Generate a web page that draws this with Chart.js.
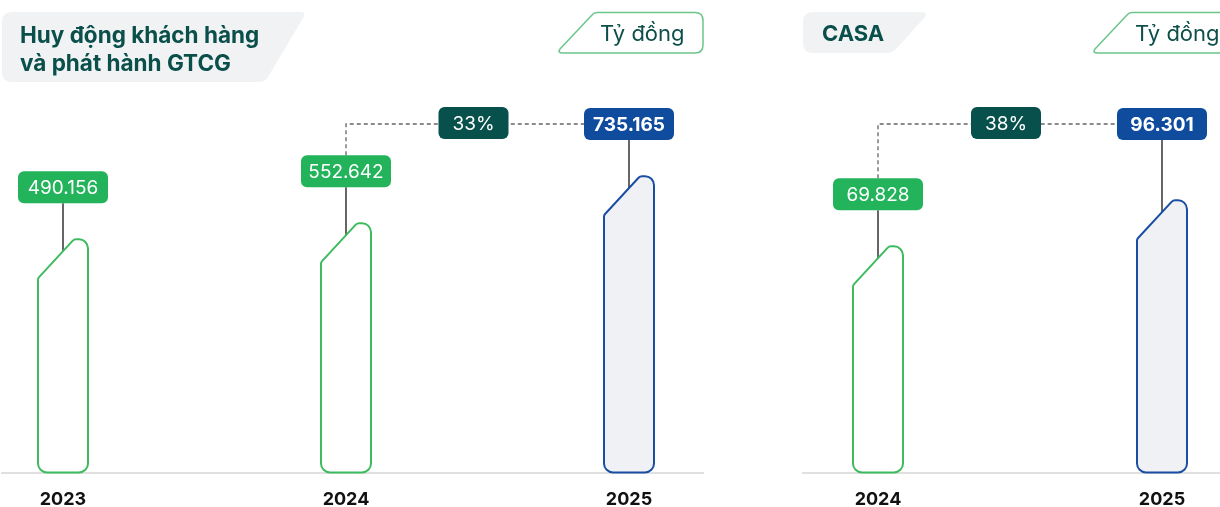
<!DOCTYPE html>
<html>
<head>
<meta charset="utf-8">
<script src="https://cdn.jsdelivr.net/npm/chart.js@4.4.1/dist/chart.umd.min.js"></script>
<style>
  html, body { margin:0; padding:0; background:#fff; }
  #wrap { position:relative; width:1220px; height:507px; overflow:hidden; font-family:Inter, "Noto Sans", sans-serif; }
  canvas.c { position:absolute; left:0; top:0; }
  svg { position:absolute; left:0; top:0; }
</style>
</head>
<body>
<div id="wrap">
  <canvas id="c1" class="c" width="1220" height="526"></canvas>
  <canvas id="c2" class="c" width="1220" height="526"></canvas>
  <svg width="1220" height="507" id="hdr"></svg>
</div>
<script>
// ---- data ----
const title1 = ['Huy động khách hàng', 'và phát hành GTCG'];
const years1 = ['2023', '2024', '2025'];
const values1 = [490156, 552642, 735165];
const growth1 = '33%';

const title2 = ['CASA'];
const years2 = ['2024', '2025'];
const values2 = [69828, 96301];
const growth2 = '38%';

const unitLabel = 'Tỷ đồng';

// ---- styles ----
const GREEN = '#22b35b', GREEN_BAR = '#3dbb5f', BLUE = '#0f4c9e', BLUE_BAR = '#1a4ea3', TEAL = '#07504b';
const FONT = 'Inter, "Noto Sans", sans-serif';

function fmt(v) { return Math.round(v).toString().replace(/\B(?=(\d{3})+(?!\d))/g, '.'); }

function rrect(ctx, x, y, w, h, r) {
  ctx.beginPath();
  ctx.moveTo(x + r, y);
  ctx.arcTo(x + w, y, x + w, y + h, r);
  ctx.arcTo(x + w, y + h, x, y + h, r);
  ctx.arcTo(x, y + h, x, y, r);
  ctx.arcTo(x, y, x + w, y, r);
  ctx.closePath();
}

function box(ctx, cx, top, w, text, fill, bold) {
  rrect(ctx, cx - w / 2, top, w, 32, 6);
  ctx.fillStyle = fill; ctx.fill();
  ctx.fillStyle = '#fff';
  ctx.font = (bold ? '700 ' : '400 ') + '19px ' + FONT;
  ctx.textAlign = 'center'; ctx.textBaseline = 'middle';
  ctx.fillText(text, cx, top + 17);
}

const barPlugin = {
  id: 'customBars',
  beforeDatasetsDraw(chart, args, o) {
    const ctx = chart.ctx, b = chart.chartArea.bottom;
    ctx.save();
    ctx.strokeStyle = '#e0e0e0'; ctx.lineWidth = 2;
    ctx.beginPath(); ctx.moveTo(o.lineFrom, b + 0.5); ctx.lineTo(o.lineTo, b + 0.5); ctx.stroke();
    ctx.restore();
  },
  afterDatasetsDraw(chart, args, o) {
    const ctx = chart.ctx;
    const meta = chart.getDatasetMeta(0);
    const data = chart.data.datasets[0].data;
    const n = meta.data.length;
    const S = 39, D = 36, W = 90;
    const fixedTop = chart.chartArea.top + 8;
    ctx.save();
    meta.data.forEach((bar, i) => {
      const last = i === n - 1;
      const cx = bar.x, y = bar.y, yb = bar.base, w = bar.width;
      const xl = cx - w / 2, xr = cx + w / 2;
      // connector
      const labelTop = last ? fixedTop : y - 68;
      const slantY = y + S - (cx - xl) * S / D;
      ctx.strokeStyle = '#666'; ctx.lineWidth = 2; ctx.setLineDash([]);
      ctx.beginPath(); ctx.moveTo(cx, labelTop + 32); ctx.lineTo(cx, slantY + 2); ctx.stroke();
      // bar shape
      ctx.beginPath();
      ctx.moveTo(xl, yb - 10);
      ctx.arcTo(xl, y + S, xl + D, y, 4);
      ctx.arcTo(xl + D, y, xr, y, 5);
      ctx.arcTo(xr, y, xr, yb, 9);
      ctx.arcTo(xr, yb, xl, yb, 9);
      ctx.arcTo(xl, yb, xl, y + S, 9);
      ctx.closePath();
      ctx.fillStyle = last ? '#eff1f4' : '#ffffff';
      ctx.fill();
      ctx.strokeStyle = last ? BLUE_BAR : GREEN_BAR; ctx.lineWidth = 2;
      ctx.stroke();
      // value label
      box(ctx, cx, labelTop, W, fmt(data[i]), last ? BLUE : GREEN, last);
    });
    // growth connector
    const a = meta.data[n - 2], z = meta.data[n - 1];
    const aTop = a.y - 68;
    const lineY = fixedTop + 16;
    ctx.strokeStyle = '#666'; ctx.lineWidth = 1.3; ctx.setLineDash([4, 3]);
    ctx.beginPath();
    ctx.moveTo(a.x, aTop); ctx.lineTo(a.x, lineY); ctx.lineTo(z.x - W / 2, lineY);
    ctx.stroke();
    ctx.setLineDash([]);
    const gx = (a.x + z.x) / 2 - 14;
    rrect(ctx, gx - 35, fixedTop - 1, 70, 32, 6);
    ctx.fillStyle = TEAL; ctx.fill();
    ctx.fillStyle = '#fff'; ctx.font = '400 19px ' + FONT;
    ctx.textAlign = 'center'; ctx.textBaseline = 'middle';
    ctx.fillText(o.growth, gx, fixedTop + 16);
    ctx.restore();
  }
};

function makeChart(id, years, values, growth, padL, padR, yMin, yMax, lineFrom, lineTo) {
  return new Chart(document.getElementById(id), {
    type: 'bar',
    data: { labels: years, datasets: [{ data: values, base: yMin, backgroundColor: 'rgba(0,0,0,0)', borderWidth: 0, barThickness: 50, clip: false }] },
    options: {
      responsive: false, animation: false,
      events: [],
      layout: { padding: { left: padL, right: padR, top: 100, bottom: 0 } },
      plugins: { legend: { display: false }, tooltip: { enabled: false },
        customBars: { growth: growth, lineFrom: lineFrom, lineTo: lineTo } },
      scales: {
        x: { offset: false, grid: { display: false, drawTicks: false }, border: { display: false },
             ticks: { padding: 16, color: '#111', font: { family: FONT, size: 18, weight: '700' }, maxRotation: 0 } },
        y: { display: false, min: yMin, max: yMax }
      }
    },
    plugins: [barPlugin]
  });
}

makeChart('c1', years1, values1, growth1, 63, 1220 - 629, -413800, 1030500, 1, 704);
makeChart('c2', years2, values2, growth2, 878, 1220 - 1162, -59900, 153800, 802, 1220);

// ---- headers (SVG, real text) ----
const svg = document.getElementById('hdr');
const NS = 'http://www.w3.org/2000/svg';
function el(tag, attrs, text) {
  const e = document.createElementNS(NS, tag);
  for (const k in attrs) e.setAttribute(k, attrs[k]);
  if (text !== undefined) e.textContent = text;
  svg.appendChild(e); return e;
}
// title 1
el('path', { d: 'M12,12 L300,12 Q307,12 303,18 L268,77 Q265,82 258,82 L12,82 Q2,82 2,72 L2,22 Q2,12 12,12 Z', fill: '#f0f2f4' });
el('text', { x: 20, y: 43, fill: '#0b4f4a', 'font-family': FONT, 'font-size': 22.5, 'font-weight': 700 }, title1[0]);
el('text', { x: 20, y: 71, fill: '#0b4f4a', 'font-family': FONT, 'font-size': 22.5, 'font-weight': 700 }, title1[1]);
// title 2
el('path', { d: 'M813,12 L922,12 Q929,12 924,18 L897,48 Q893,53 886,53 L813,53 Q803,53 803,43 L803,22 Q803,12 813,12 Z', fill: '#f0f2f4' });
el('text', { x: 822, y: 41, fill: '#0b4f4a', 'font-family': FONT, 'font-size': 22, 'font-weight': 700 }, title2[0]);
// unit boxes
function unit(x0) {
  el('path', { d: `M${x0 + 40},12.5 L${x0 + 138},12.5 Q${x0 + 146},12.5 ${x0 + 146},20.5 L${x0 + 146},45 Q${x0 + 146},53 ${x0 + 138},53 L${x0 + 6},53 Q${x0},53 ${x0 + 3},49 L${x0 + 35},15 Q${x0 + 37},12.5 ${x0 + 40},12.5 Z`,
    fill: '#fff', stroke: '#6cc58a', 'stroke-width': 1.5 });
  el('text', { x: x0 + 43, y: 41, fill: '#0e4f4a', 'font-family': FONT, 'font-size': 22, 'font-weight': 400 }, unitLabel);
}
unit(557);
unit(1092);
</script>
</body>
</html>
